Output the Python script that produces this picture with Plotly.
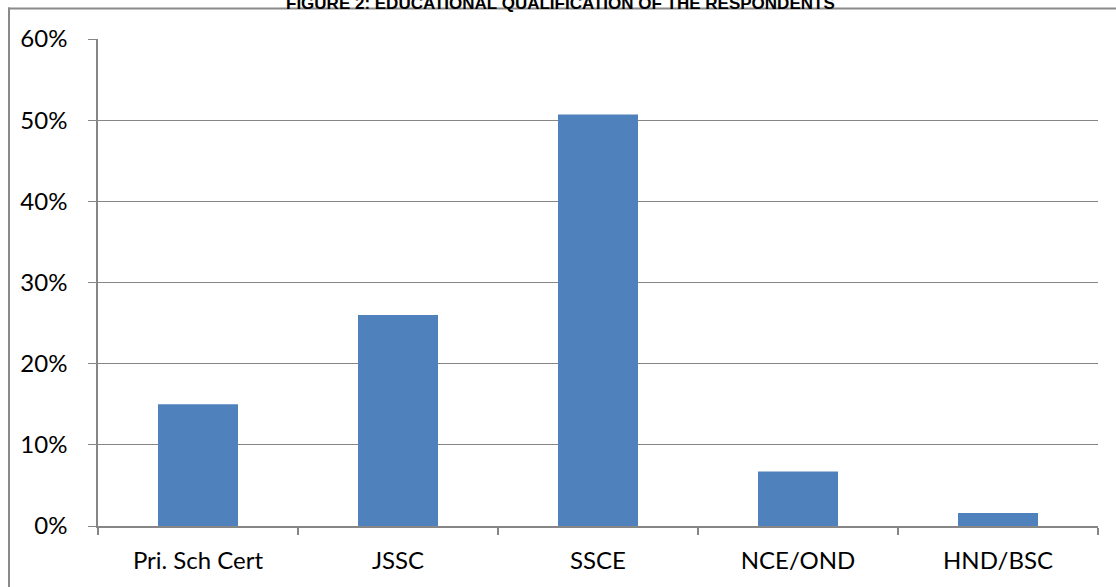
import plotly.graph_objects as go

categories = ["Pri. Sch Cert", "JSSC", "SSCE", "NCE/OND", "HND/BSC"]
shares = [0.150, 0.260, 0.507, 0.067, 0.016]
y_ticks = [0, 0.1, 0.2, 0.3, 0.4, 0.5, 0.6]
y_tick_text = ["0%", "10%", "20%", "30%", "40%", "50%", "60%"]

W, H = 1116, 587
L, R, T, B = 98, 18, 39, 61
plot_h = H - T - B

def paper_y(px):
    return (H - B - px) / plot_h

def paper_x(px):
    return (px - L) / (W - L - R)

axis_grey = "#868686"
frame_grey = "#8a8a8a"

fig = go.Figure(
    go.Bar(
        x=categories,
        y=shares,
        marker=dict(color="#4F81BD", line=dict(width=0)),
        width=0.4,
    )
)

fig.update_layout(
    width=W,
    height=H,
    margin=dict(l=L, r=R, t=T, b=B),
    paper_bgcolor="white",
    plot_bgcolor="white",
    showlegend=False,
    font=dict(family="Lato, Carlito, sans-serif", size=24, color="#000000"),
    bargap=0.6,
)

fig.update_xaxes(
    type="category",
    showline=True,
    linecolor=axis_grey,
    linewidth=1.5,
    ticks="outside",
    tickson="boundaries",
    ticklen=7,
    tickcolor=axis_grey,
    tickwidth=1.5,
    showgrid=False,
    ticklabelstandoff=12,
)

fig.update_yaxes(
    range=[0, 0.6],
    tickvals=y_ticks,
    ticktext=y_tick_text,
    showline=True,
    linecolor=axis_grey,
    linewidth=1.5,
    ticks="outside",
    ticklen=8,
    tickcolor=axis_grey,
    tickwidth=1,
    showgrid=True,
    gridcolor=axis_grey,
    gridwidth=1,
    zeroline=False,
    ticklabelstandoff=16,
)

# Chart frame: thin filled strips along the left and top edges
for x0, x1, y0, y1 in [(8, 10, 7.5, 587), (8, 1116, 7.5, 9.5)]:
    fig.add_shape(
        type="rect", xref="paper", yref="paper",
        x0=paper_x(x0), x1=paper_x(x1), y0=paper_y(y1), y1=paper_y(y0),
        fillcolor=frame_grey, line=dict(width=0), layer="below",
    )

fig.add_annotation(
    text="<b>FIGURE 2: EDUCATIONAL QUALIFICATION OF THE RESPONDENTS</b>",
    xref="paper", yref="paper",
    x=paper_x(560), y=paper_y(15),
    xanchor="center", yanchor="bottom",
    showarrow=False,
    font=dict(family="Liberation Sans, Arial, sans-serif", size=17, color="#000000"),
)

fig.write_html("out.html")
